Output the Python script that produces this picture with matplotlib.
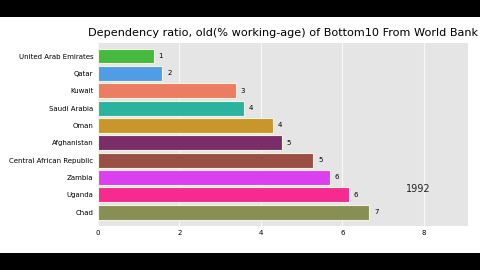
import matplotlib
matplotlib.use("Agg")
import matplotlib.pyplot as plt
from matplotlib.patches import Rectangle

countries = ["United Arab Emirates", "Qatar", "Kuwait", "Saudi Arabia", "Oman",
             "Afghanistan", "Central African Republic", "Zambia", "Uganda", "Chad"]
values = [1.37, 1.58, 3.38, 3.58, 4.29, 4.51, 5.29, 5.69, 6.15, 6.66]
colors = ["#46b93f", "#4f9de6", "#ec7d63", "#2ab39e", "#c9962c",
          "#7b2d6a", "#9b4f44", "#dc3ff0", "#f72a8f", "#878f55"]
ticks = [0, 2, 4, 6, 8]
year = "1992"

fig = plt.figure(figsize=(4.8, 2.7), dpi=100)
fig.patch.set_facecolor("white")
# letterbox bands
fig.patches.append(Rectangle((0, 1 - 17 / 270), 1, 17 / 270, transform=fig.transFigure,
                             facecolor="black", zorder=0))
fig.patches.append(Rectangle((0, 0), 1, 17 / 270, transform=fig.transFigure,
                             facecolor="black", zorder=0))

ax = fig.add_axes([97.7 / 480, 1 - 226 / 270, (468 - 97.7) / 480, (226 - 43) / 270])
ax.set_facecolor("#e5e5e5")
y = range(len(countries))
ax.barh(y, values, height=0.86, color=colors, edgecolor="#f4f4e0", linewidth=0.8, zorder=3)
for yi, v in zip(y, values):
    ax.text(v + 0.12, yi, f"{round(v)}", va="center", ha="left", fontsize=5, zorder=4)

ax.set_xlim(0, 9.08)
ax.set_ylim(9.8, -0.75)
ax.set_yticks(list(y))
ax.set_yticklabels(countries, fontsize=5)
ax.set_xticks(ticks)
ax.set_xticklabels([str(t) for t in ticks], fontsize=5)
ax.tick_params(length=0, pad=3)
ax.grid(axis="x", color="#f8f8f8", linewidth=0.8, zorder=1)
for s in ax.spines.values():
    s.set_visible(False)
ax.text(7.86, 7.65, year, fontsize=7, ha="center", va="center", color="#222222")
ax.set_title("Dependency ratio, old(% working-age) of Bottom10 From World Bank",
             fontsize=8.1, pad=5)

fig.savefig("out.png", dpi=100)
